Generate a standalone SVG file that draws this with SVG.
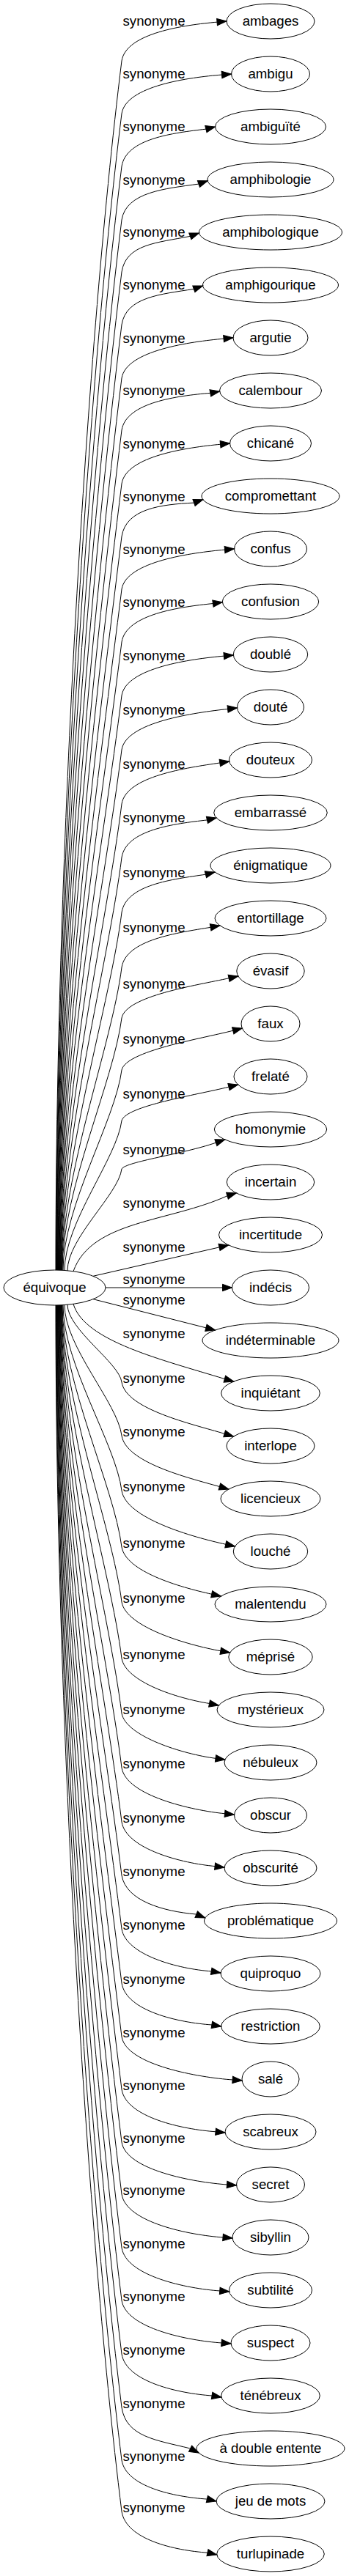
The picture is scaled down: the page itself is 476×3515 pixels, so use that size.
<svg xmlns="http://www.w3.org/2000/svg" width="476" height="3515" viewBox="0 0 476 3515">
<defs>
<style>
text{font-family:"Liberation Sans",Arial,sans-serif;font-size:18.67px;text-anchor:middle;fill:#000}
.n ellipse{fill:none;stroke:#000;stroke-width:1}
#edges path{fill:none;stroke:#000;stroke-width:1;marker-end:url(#ah)}
</style>
<marker id="ah" markerUnits="userSpaceOnUse" markerWidth="14" markerHeight="11" refX="13" refY="5.5" orient="auto" overflow="visible"><path d="M0,0.8 L13,5.5 L0,10.2 Z" fill="#000" stroke="#000" stroke-width="1"/></marker>
</defs>
<rect width="476" height="3515" fill="#fff"/>
<g id="edges">
<path d="M76,1733 C76,1205 115,495 166,83 C172,45 251.5,34.1 296.5,30.1 L309,29"/>
<path d="M76.5,1733 C76.5,1228 117,549.5 166,155 C172,117 258,105.6 303,102 L315.5,101"/>
<path d="M77,1733 C77,1251 119.3,603.5 166,227 C172,189 236,181.5 281,176.1 L293.5,173"/>
<path d="M77.5,1733 C77.5,1274.4 121.6,658 166,300 C172,262 225.7,257.3 270.7,251.1 L283.2,246.7"/>
<path d="M78,1733 C78,1297.2 123.8,711.5 166,371 C172,333 214.1,331.4 259.1,322.4 L271.6,318"/>
<path d="M78.5,1733 C78.5,1320.2 126,765.5 166,443 C172,405 219.1,401.7 264.1,394.4 L276.6,390"/>
<path d="M79,1733 C79,1343.6 128.3,820 166,516 C172,478 260.5,466.2 305.5,462.1 L318,461"/>
<path d="M79.5,1733 C79.5,1366.3 130.5,873.5 166,587 C172,549 242.1,540.1 287.1,536.3 L299.6,534"/>
<path d="M80,1733 C80,1389.6 132.7,928 166,660 C172,622 256,610.6 301,606.2 L313.5,605"/>
<path d="M80.5,1733 C80.5,1412.7 135,982 166,732 C172,694 219.3,688.4 264.3,686.1 L276.8,681.7"/>
<path d="M81,1733 C81,1435.7 137.2,1036 166,804 C172,766 262,754.1 307,750.1 L319.5,749"/>
<path d="M81.5,1733 C81.5,1458.8 139.4,1090 166,876 C172,838 245.8,828.1 290.8,823.5 L303.3,821.7"/>
<path d="M82,1733 C82,1482 141.7,1145 166,949 C172,911 260.8,899.2 305.8,895.1 L318.3,894"/>
<path d="M82.5,1733 C82.5,1506 144,1200.5 166,1023 C172,985 266,972.4 311,967.4 L323.5,966"/>
<path d="M83,1733 C83,1529.5 146.3,1256 166,1097 C172,1059 255.2,1047.6 300.2,1040.9 L312.7,1039"/>
<path d="M83.5,1733 C83.5,1553 148.5,1310.8 166,1170 C172,1132 237.6,1124.1 282.6,1118.9 L295.1,1116"/>
<path d="M84,1733 C84,1577 151,1367 166,1245 C172,1207 235.5,1199.8 280.5,1193.2 L293,1190"/>
<path d="M84.5,1733 C84.5,1601 153.2,1423 166,1320 C172,1282 242.4,1272.8 287.4,1265.3 L299.9,1263"/>
<path d="M85,1733 C85,1623 155.3,1475 166,1389 C172,1359 267.5,1344.6 312.5,1334.7 L324.8,1332"/>
<path d="M86,1733 C86,1645.6 157.5,1528.3 166,1460 C172,1434 273,1417.7 318,1406.2 L330.3,1403"/>
<path d="M88,1733.5 C88,1668.1 159.7,1580.1 166,1529 C172,1509 267.1,1494.3 312.1,1483.1 L324.6,1480"/>
<path d="M92,1733.8 C92,1689.4 161.7,1629.7 166,1595 C172,1585 249.2,1574.9 294.2,1559.3 L306.7,1555"/>
<path d="M100,1734.7 C125,1665 230,1668 310.4,1631.6 L322.4,1628"/>
<path d="M127,1741.3 L311.7,1699"/>
<path d="M144,1757 L316.5,1757"/>
<path d="M127,1772.7 L293.5,1815"/>
<path d="M100,1779.3 C115,1830 220,1855 306.8,1881.7 L318.9,1885"/>
<path d="M92,1780.2 C92,1814.1 162.7,1859.5 166,1886 C172,1923 261.1,1942.8 306.1,1956.3 L318.6,1960"/>
<path d="M88,1780.5 C88,1837.6 160.5,1914.4 166,1959 C172,1995.5 254.4,2015.9 299.4,2028.5 L311.9,2032"/>
<path d="M86,1780.7 C86,1861.8 158.1,1970.7 166,2034 C172,2072 263,2097.4 308,2107.3 L320.5,2110"/>
<path d="M85,1780.8 C85,1886.5 155.8,2028.5 166,2111 C172,2144.5 243.9,2165.4 288.9,2175.3 L301.4,2178"/>
<path d="M84.5,1781 C84.5,1910.6 153.4,2084.8 166,2186 C172,2220.5 256.1,2244.7 301.1,2252.8 L313.6,2255"/>
<path d="M84,1781 C84,1935.2 151.1,2142.5 166,2263 C172,2295 240.8,2317.3 285.8,2324.5 L298.3,2327"/>
<path d="M83.5,1781 C83.5,1959.2 148.7,2198.8 166,2338 C172,2369.5 249.4,2393.5 294.4,2399.4 L306.9,2401"/>
<path d="M83,1781 C83,1982.9 146.4,2254.3 166,2412 C172,2450.4 262,2470.3 307,2474.8 L319.5,2476"/>
<path d="M82.5,1781 C82.5,2006.6 144.1,2309.8 166,2486 C172,2523.2 248.5,2542.5 293.5,2546.6 L306,2548"/>
<path d="M82,1781 C82,2030 141.9,2364.5 166,2559 C172,2593.8 222.3,2608 267.3,2612 L279.8,2617"/>
<path d="M81.5,1781 C81.5,2053.3 139.6,2419.3 166,2632 C172,2668 243.5,2686.7 288.5,2689.9 L301,2692"/>
<path d="M81,1781 C81,2077 137.3,2474.8 166,2706 C172,2744.4 244.2,2759.9 289.2,2763 L301.7,2765"/>
<path d="M80.5,1781 C80.5,2100.4 135.1,2529.5 166,2779 C172,2818 272.6,2834.9 317.6,2838 L330.1,2839"/>
<path d="M80,1781 C80,2123.4 132.8,2583.5 166,2851 C172,2889.4 249.5,2905.6 294.5,2908.8 L307,2910"/>
<path d="M79.5,1781 C79.5,2146.4 130.6,2637.5 166,2923 C172,2961.4 265,2977.8 310,2981 L322.5,2982"/>
<path d="M79,1781 C79,2169.2 128.4,2690.8 166,2994 C172,3033 259.5,3049.9 304.5,3053 L317,3054"/>
<path d="M78.5,1781 C78.5,2192.5 126.1,2745.5 166,3067 C172,3106 255.2,3122.9 300.2,3126 L312.7,3127"/>
<path d="M78,1781 C78,2215.6 123.9,2799.5 166,3139 C172,3177.4 257.5,3193.9 302.5,3197 L315,3198"/>
<path d="M77.5,1781 C77.5,2238.9 121.6,2854.3 166,3212 C172,3250.4 244.4,3265.9 289.4,3269 L301.9,3271"/>
<path d="M77,1781 C77,2262.3 119.4,2909 166,3285 C172,3325.3 213.7,3329.6 258.7,3340.8 L271.2,3347"/>
<path d="M76.5,1781 C76.5,2285.3 117.1,2963 166,3357 C172,3393.4 237.5,3407 282.5,3410.1 L295,3413"/>
<path d="M76,1781 C76,2307.7 115,3015.5 166,3427 C172,3465.4 238.2,3480.1 283.2,3483.2 L295.7,3486"/>
</g>
<g id="edge-labels">
<text x="210" y="35.3">synonyme</text>
<text x="210" y="106.7">synonyme</text>
<text x="210" y="179.3">synonyme</text>
<text x="210" y="251.7">synonyme</text>
<text x="210" y="323.3">synonyme</text>
<text x="210" y="395">synonyme</text>
<text x="210" y="467.7">synonyme</text>
<text x="210" y="539.3">synonyme</text>
<text x="210" y="611.7">synonyme</text>
<text x="210" y="684.3">synonyme</text>
<text x="210" y="756">synonyme</text>
<text x="210" y="828.3">synonyme</text>
<text x="210" y="901">synonyme</text>
<text x="210" y="975.3">synonyme</text>
<text x="210" y="1048.7">synonyme</text>
<text x="210" y="1121.7">synonyme</text>
<text x="210" y="1196.7">synonyme</text>
<text x="210" y="1272">synonyme</text>
<text x="210" y="1348.7">synonyme</text>
<text x="210" y="1423.7">synonyme</text>
<text x="210" y="1499.3">synonyme</text>
<text x="210" y="1575">synonyme</text>
<text x="210" y="1647.7">synonyme</text>
<text x="210" y="1707.7">synonyme</text>
<text x="210" y="1751.7">synonyme</text>
<text x="210" y="1780">synonyme</text>
<text x="210" y="1826">synonyme</text>
<text x="210" y="1886.7">synonyme</text>
<text x="210" y="1960.3">synonyme</text>
<text x="210" y="2035.3">synonyme</text>
<text x="210" y="2112">synonyme</text>
<text x="210" y="2186.7">synonyme</text>
<text x="210" y="2264.3">synonyme</text>
<text x="210" y="2338.7">synonyme</text>
<text x="210" y="2413.3">synonyme</text>
<text x="210" y="2487">synonyme</text>
<text x="210" y="2560">synonyme</text>
<text x="210" y="2632.7">synonyme</text>
<text x="210" y="2707">synonyme</text>
<text x="210" y="2780.3">synonyme</text>
<text x="210" y="2852">synonyme</text>
<text x="210" y="2923.7">synonyme</text>
<text x="210" y="2995.3">synonyme</text>
<text x="210" y="3068.3">synonyme</text>
<text x="210" y="3140">synonyme</text>
<text x="210" y="3213.3">synonyme</text>
<text x="210" y="3286">synonyme</text>
<text x="210" y="3357.7">synonyme</text>
<text x="210" y="3427.7">synonyme</text>
</g>
<g id="n-equivoque" class="n"><ellipse cx="74.5" cy="1757" rx="69.5" ry="24"/><text x="74.5" y="1763">équivoque</text></g>
<g id="n-ambages" class="n"><ellipse cx="369" cy="29" rx="60" ry="24"/><text x="369" y="35">ambages</text></g>
<g id="n-ambigu" class="n"><ellipse cx="369" cy="101" rx="53.5" ry="24"/><text x="369" y="107">ambigu</text></g>
<g id="n-ambiguite" class="n"><ellipse cx="369" cy="173" rx="75.5" ry="24"/><text x="369" y="179">ambiguïté</text></g>
<g id="n-amphibologie" class="n"><ellipse cx="369" cy="245" rx="86" ry="24"/><text x="369" y="251">amphibologie</text></g>
<g id="n-amphibologique" class="n"><ellipse cx="369" cy="317" rx="97.5" ry="24"/><text x="369" y="323">amphibologique</text></g>
<g id="n-amphigourique" class="n"><ellipse cx="369" cy="389" rx="92.5" ry="24"/><text x="369" y="395">amphigourique</text></g>
<g id="n-argutie" class="n"><ellipse cx="369" cy="461" rx="51" ry="24"/><text x="369" y="467">argutie</text></g>
<g id="n-calembour" class="n"><ellipse cx="369" cy="533" rx="69.5" ry="24"/><text x="369" y="539">calembour</text></g>
<g id="n-chicane" class="n"><ellipse cx="369" cy="605" rx="55.5" ry="24"/><text x="369" y="611">chicané</text></g>
<g id="n-compromettant" class="n"><ellipse cx="369" cy="677" rx="94" ry="24"/><text x="369" y="683">compromettant</text></g>
<g id="n-confus" class="n"><ellipse cx="369" cy="749" rx="49.5" ry="24"/><text x="369" y="755">confus</text></g>
<g id="n-confusion" class="n"><ellipse cx="369" cy="821" rx="65.7" ry="24"/><text x="369" y="827">confusion</text></g>
<g id="n-double" class="n"><ellipse cx="369" cy="893" rx="50.7" ry="24"/><text x="369" y="899">doublé</text></g>
<g id="n-doute" class="n"><ellipse cx="369" cy="965" rx="45.5" ry="24"/><text x="369" y="971">douté</text></g>
<g id="n-douteux" class="n"><ellipse cx="369" cy="1037" rx="56.5" ry="24"/><text x="369" y="1043">douteux</text></g>
<g id="n-embarrasse" class="n"><ellipse cx="369" cy="1109" rx="77.3" ry="24"/><text x="369" y="1115">embarrassé</text></g>
<g id="n-enigmatique" class="n"><ellipse cx="369" cy="1181" rx="82" ry="24"/><text x="369" y="1187">énigmatique</text></g>
<g id="n-entortillage" class="n"><ellipse cx="369" cy="1253" rx="76" ry="24"/><text x="369" y="1259">entortillage</text></g>
<g id="n-evasif" class="n"><ellipse cx="369" cy="1325" rx="46.2" ry="24"/><text x="369" y="1331">évasif</text></g>
<g id="n-faux" class="n"><ellipse cx="369" cy="1397" rx="40" ry="24"/><text x="369" y="1403">faux</text></g>
<g id="n-frelate" class="n"><ellipse cx="369" cy="1469" rx="50" ry="24"/><text x="369" y="1475">frelaté</text></g>
<g id="n-homonymie" class="n"><ellipse cx="369" cy="1541" rx="76.7" ry="24"/><text x="369" y="1547">homonymie</text></g>
<g id="n-incertain" class="n"><ellipse cx="369" cy="1613" rx="59.7" ry="24"/><text x="369" y="1619">incertain</text></g>
<g id="n-incertitude" class="n"><ellipse cx="369" cy="1685" rx="70.5" ry="24"/><text x="369" y="1691">incertitude</text></g>
<g id="n-indecis" class="n"><ellipse cx="369" cy="1757" rx="52.5" ry="24"/><text x="369" y="1763">indécis</text></g>
<g id="n-indeterminable" class="n"><ellipse cx="369" cy="1829" rx="93" ry="24"/><text x="369" y="1835">indéterminable</text></g>
<g id="n-inquietant" class="n"><ellipse cx="369" cy="1901" rx="67.3" ry="24"/><text x="369" y="1907">inquiétant</text></g>
<g id="n-interlope" class="n"><ellipse cx="369" cy="1973" rx="60" ry="24"/><text x="369" y="1979">interlope</text></g>
<g id="n-licencieux" class="n"><ellipse cx="369" cy="2045" rx="68" ry="24"/><text x="369" y="2051">licencieux</text></g>
<g id="n-louche" class="n"><ellipse cx="369" cy="2117" rx="50.7" ry="24"/><text x="369" y="2123">louché</text></g>
<g id="n-malentendu" class="n"><ellipse cx="369" cy="2189" rx="76" ry="24"/><text x="369" y="2195">malentendu</text></g>
<g id="n-meprise" class="n"><ellipse cx="369" cy="2261" rx="57.2" ry="24"/><text x="369" y="2267">méprisé</text></g>
<g id="n-mysterieux" class="n"><ellipse cx="369" cy="2333" rx="73" ry="24"/><text x="369" y="2339">mystérieux</text></g>
<g id="n-nebuleux" class="n"><ellipse cx="369" cy="2405" rx="63" ry="24"/><text x="369" y="2411">nébuleux</text></g>
<g id="n-obscur" class="n"><ellipse cx="369" cy="2477" rx="49.5" ry="24"/><text x="369" y="2483">obscur</text></g>
<g id="n-obscurite" class="n"><ellipse cx="369" cy="2549" rx="63" ry="24"/><text x="369" y="2555">obscurité</text></g>
<g id="n-problematique" class="n"><ellipse cx="369" cy="2621" rx="90.5" ry="24"/><text x="369" y="2627">problématique</text></g>
<g id="n-quiproquo" class="n"><ellipse cx="369" cy="2693" rx="68" ry="24"/><text x="369" y="2699">quiproquo</text></g>
<g id="n-restriction" class="n"><ellipse cx="369" cy="2765" rx="67.3" ry="24"/><text x="369" y="2771">restriction</text></g>
<g id="n-sale" class="n"><ellipse cx="369" cy="2837" rx="39" ry="24"/><text x="369" y="2843">salé</text></g>
<g id="n-scabreux" class="n"><ellipse cx="369" cy="2909" rx="62" ry="24"/><text x="369" y="2915">scabreux</text></g>
<g id="n-secret" class="n"><ellipse cx="369" cy="2981" rx="46.5" ry="24"/><text x="369" y="2987">secret</text></g>
<g id="n-sibyllin" class="n"><ellipse cx="369" cy="3053" rx="52" ry="24"/><text x="369" y="3059">sibyllin</text></g>
<g id="n-subtilite" class="n"><ellipse cx="369" cy="3125" rx="56.5" ry="24"/><text x="369" y="3131">subtilité</text></g>
<g id="n-suspect" class="n"><ellipse cx="369" cy="3197" rx="54" ry="24"/><text x="369" y="3203">suspect</text></g>
<g id="n-tenebreux" class="n"><ellipse cx="369" cy="3269" rx="67.3" ry="24"/><text x="369" y="3275">ténébreux</text></g>
<g id="n-a-double-entente" class="n"><ellipse cx="369" cy="3341" rx="101" ry="24"/><text x="369" y="3347">à double entente</text></g>
<g id="n-jeu-de-mots" class="n"><ellipse cx="369" cy="3413" rx="74" ry="24"/><text x="369" y="3419">jeu de mots</text></g>
<g id="n-turlupinade" class="n"><ellipse cx="369" cy="3485" rx="73.3" ry="24"/><text x="369" y="3491">turlupinade</text></g>
</svg>
